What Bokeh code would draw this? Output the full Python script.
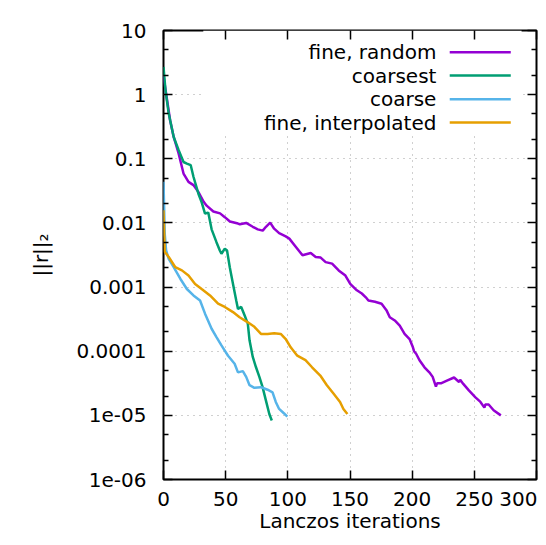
from bokeh.plotting import figure
from bokeh.models import (FixedTicker, CustomJSTickFormatter, LogAxis, LinearAxis,
                          BoxAnnotation, Label)
from bokeh.embed import file_html
from bokeh.resources import INLINE

# ---------------- data ----------------
fine_random_x = [0, 2.9, 5.3, 8.2, 12.2, 16.1, 20.1, 24.1, 28.1, 32.3, 34.7, 40.1, 45.5,
                 49.3, 53.4, 59.9, 61.4, 66.5, 71.8, 75.8, 79.8, 82.4, 85.8, 89, 93, 98.3,
                 101.2, 106.5, 111.8, 118.4, 122.4, 126.4, 130.4, 135.6, 140.9, 146.3,
                 150.2, 155.5, 159.5, 162.7, 164.8, 170.1, 175.4, 179.3, 182, 186, 190,
                 193.9, 197.9, 200.6, 201.5, 203.2, 205.9, 209.9, 213.8, 216.5, 219.1,
                 220.0, 223.1, 228.4, 233.7, 237.7, 238.6, 241.1, 245.6, 250.9, 254.9,
                 258.1, 258.9, 261.5, 265.5, 271.3]
fine_random_y = [1.94, 0.818, 0.398, 0.219, 0.120, 0.0589, 0.0437, 0.0389, 0.0302, 0.0214,
                 0.0186, 0.0151, 0.0141, 0.0123, 0.0105, 0.00977, 0.00955, 0.0100, 0.00871,
                 0.00794, 0.00759, 0.00871, 0.0101, 0.00813, 0.00692, 0.00617, 0.00569,
                 0.00422, 0.00313, 0.00339, 0.00295, 0.00288, 0.00245, 0.00232, 0.00182,
                 0.00151, 0.00112, 0.000891, 0.000794, 0.000692, 0.000617, 0.000589,
                 0.000550, 0.000437, 0.000339, 0.000302, 0.000251, 0.000186, 0.000155,
                 0.000115, 0.000100, 9.12e-5, 7.24e-5, 5.62e-5, 4.68e-5, 3.98e-5, 2.80e-5,
                 3.16e-5, 3.16e-5, 3.51e-5, 3.89e-5, 3.31e-5, 3.60e-5, 3.09e-5, 2.45e-5,
                 1.91e-5, 1.62e-5, 1.32e-5, 1.48e-5, 1.48e-5, 1.20e-5, 1.00e-5]

coarsest_x = [0, 1.6, 4.2, 8.2, 12.2, 16.1, 18.8, 21.9, 24.1, 28, 30.7, 33.4, 36, 38.7,
              42.6, 45.3, 46.6, 49.3, 51.1, 53.3, 55.9, 58.5, 59.9, 62.5, 65.2, 67.8, 69.2,
              71.8, 74.4, 77.1, 79.7, 82.4, 85.1, 87.1]
coarsest_y = [2.70, 1.17, 0.507, 0.219, 0.136, 0.0891, 0.0841, 0.0794, 0.0525, 0.0288,
              0.0209, 0.0140, 0.0145, 0.00794, 0.00501, 0.00372, 0.00331, 0.00398, 0.00372,
              0.00204, 0.00112, 0.000617, 0.000457, 0.000490, 0.000363, 0.000269,
              0.000148, 8.13e-5, 5.62e-5, 3.98e-5, 2.75e-5, 1.70e-5, 1.05e-5, 8.3e-6]

coarse_x = [0, 1, 2.1, 4.2, 8.2, 13.5, 18.8, 24.1, 29.4, 33.4, 38.7, 42.6, 46.6, 51.9,
            57.2, 59.9, 63.8, 66.5, 69.2, 73.1, 78.4, 83.7, 87.7, 90.3, 93, 97, 99.6]
coarse_y = [0.0437, 0.00676, 0.00372, 0.00275, 0.00204, 0.00135, 0.000933, 0.000741,
            0.000617, 0.000385, 0.000224, 0.000166, 0.000123, 8.51e-5, 6.38e-5, 4.68e-5,
            4.90e-5, 3.98e-5, 2.95e-5, 2.69e-5, 2.75e-5, 2.51e-5, 2.29e-5, 1.62e-5,
            1.26e-5, 1.07e-5, 9.55e-6]

interp_x = [0, 1, 4.2, 9.5, 14.8, 20.1, 25.4, 30.7, 37.4, 43.9, 49.3, 55.9, 61.2, 67.8,
            73.1, 78.4, 83.7, 89, 94.3, 98.3, 102.3, 107.6, 114.2, 119.5, 126.1, 131.4,
            136.7, 142, 144.7, 147.9]
interp_y = [0.0158, 0.00355, 0.00295, 0.00204, 0.00182, 0.00151, 0.00112, 0.000933,
            0.000741, 0.000550, 0.000490, 0.000407, 0.000339, 0.000282, 0.000240,
            0.000186, 0.000186, 0.000191, 0.000186, 0.000155, 0.000115, 8.51e-5,
            7.24e-5, 5.62e-5, 4.17e-5, 2.95e-5, 2.19e-5, 1.62e-5, 1.26e-5, 1.05e-5]

series_names = ["fine, random", "coarsest", "coarse", "fine, interpolated"]
series_colors = ["#9400D3", "#009E73", "#56B4E9", "#E69F00"]

x_ticks = [0, 50, 100, 150, 200, 250, 300]
x_tick_labels = ["0", "50", "100", "150", "200", "250", "300"]
y_ticks = [1e-6, 1e-5, 1e-4, 1e-3, 1e-2, 1e-1, 1, 10]
y_tick_labels = ["1e-06", "1e-05", "0.0001", "0.001", "0.01", "0.1", "1", "10"]
y_minor = [m * 10.0 ** e for e in range(-6, 1) for m in (2, 5)]

x_title = "Lanczos iterations"
y_title = "||r||\u2082"

FONT = "DejaVu Sans"
FS = "20px"

# ---------------- figure ----------------
W, H = 538, 537
BL, BR, BT, BB = 163, 2, 30, 58
XLAB_STANDOFF = 12
p = figure(width=W, height=H, x_range=(0, 300), y_range=(1e-6, 10),
           y_axis_type="log", output_backend="svg", toolbar_location=None,
           min_border_left=BL, min_border_right=BR, min_border_top=BT,
           min_border_bottom=BB)
p.background_fill_color = "white"
p.border_fill_color = "white"
p.outline_line_color = "black"
p.outline_line_width = 2

px_per_decade = (H - BT - BB) / 7.0

fmt_y = CustomJSTickFormatter(args=dict(tvals=y_ticks, tlabels=y_tick_labels), code="""
    for (let i = 0; i < tvals.length; i++) {
        if (Math.abs(Math.log10(tvals[i]) - Math.log10(tick)) < 1e-6) return tlabels[i];
    }
    return '';
""")
# last x label (at the right edge) is drawn separately, right-aligned, so it stays visible
fmt_x = CustomJSTickFormatter(args=dict(tvals=x_ticks[:-1], tlabels=x_tick_labels[:-1]), code="""
    for (let i = 0; i < tvals.length; i++) {
        if (Math.abs(tvals[i] - tick) < 1e-6) return tlabels[i];
    }
    return '';
""")
blank = CustomJSTickFormatter(code="return '';")

xt = FixedTicker(ticks=x_ticks, minor_ticks=[])
yt = FixedTicker(ticks=y_ticks, minor_ticks=y_minor)

def style_axis(ax, labels=True):
    ax.axis_line_color = None
    ax.major_tick_in = 9
    ax.major_tick_out = 0
    ax.minor_tick_in = 5
    ax.minor_tick_out = 0
    ax.major_tick_line_color = "black"
    ax.minor_tick_line_color = "black"
    ax.major_tick_line_width = 1.5
    ax.minor_tick_line_width = 1.5
    if labels:
        ax.major_label_text_font = FONT
        ax.major_label_text_font_size = FS
        ax.major_label_text_color = "black"
    else:
        ax.major_label_text_font_size = "0px"
        ax.major_label_standoff = 0
        ax.axis_label_standoff = 0
        ax.axis_label_text_font_size = "0px"

xa = p.xaxis[0]
xa.ticker = xt
xa.formatter = fmt_x
style_axis(xa)
xa.major_label_standoff = XLAB_STANDOFF
xa.axis_label = x_title
xa.axis_label_text_font = FONT
xa.axis_label_text_font_size = FS
xa.axis_label_text_font_style = "normal"
xa.axis_label_text_color = "black"
xa.axis_label_standoff = 0

ya = p.yaxis[0]
ya.ticker = yt
ya.formatter = fmt_y
style_axis(ya)
ya.major_label_standoff = 17
ya.axis_label = y_title
ya.axis_label_text_font = FONT
ya.axis_label_text_font_size = FS
ya.axis_label_text_font_style = "normal"
ya.axis_label_text_color = "black"
ya.axis_label_standoff = 21

ra = LogAxis(ticker=yt, formatter=blank)
style_axis(ra, labels=False)
p.add_layout(ra, "right")

ta = LinearAxis(ticker=xt, formatter=blank)
style_axis(ta, labels=False)
p.add_layout(ta, "above")

for g in (p.xgrid[0], p.ygrid[0]):
    g.grid_line_color = "#a0a0a0"
    g.grid_line_dash = "1 5"
    g.grid_line_width = 1
p.xgrid[0].ticker = xt
p.ygrid[0].ticker = FixedTicker(ticks=y_ticks)

# opaque legend background covering the grid
p.add_layout(BoxAnnotation(left=32, right=288, bottom=10 ** -0.618, top=10,
                           fill_color="white", fill_alpha=1.0, line_color=None,
                           level="underlay"))

# ---------------- data lines ----------------
xs = [fine_random_x, coarsest_x, coarse_x, interp_x]
ys = [fine_random_y, coarsest_y, coarse_y, interp_y]
for x, y, c in zip(xs, ys, series_colors):
    p.line(x, y, line_color=c, line_width=2.5)

# ---------------- legend (gnuplot style: text left, sample right) ----------------
row_logs = [0.661, 0.298, -0.072, -0.435]
for name, c, lg in zip(series_names, series_colors, row_logs):
    p.add_layout(Label(x=219.5, y=10 ** lg, text=name, text_align="right",
                       text_baseline="middle", text_font=FONT, text_font_size=FS,
                       text_color="black"))
p.segment(x0=[230.2] * 4, x1=[279.3] * 4, y0=[10 ** v for v in row_logs],
          y1=[10 ** v for v in row_logs], line_color=series_colors, line_width=2.5)

# right-most x tick label, right-aligned at the canvas edge; kept in the (roomy) top
# panel so that it is not clipped to the frame and takes no space at the bottom
p.add_layout(Label(x=x_ticks[-1], y=10 ** (-6 - XLAB_STANDOFF / px_per_decade),
                   x_offset=BR - 1, text=x_tick_labels[-1], text_align="right",
                   text_baseline="top", text_font=FONT, text_font_size=FS,
                   text_color="black"), "above")

open("out.html", "w").write(file_html(p, INLINE))
